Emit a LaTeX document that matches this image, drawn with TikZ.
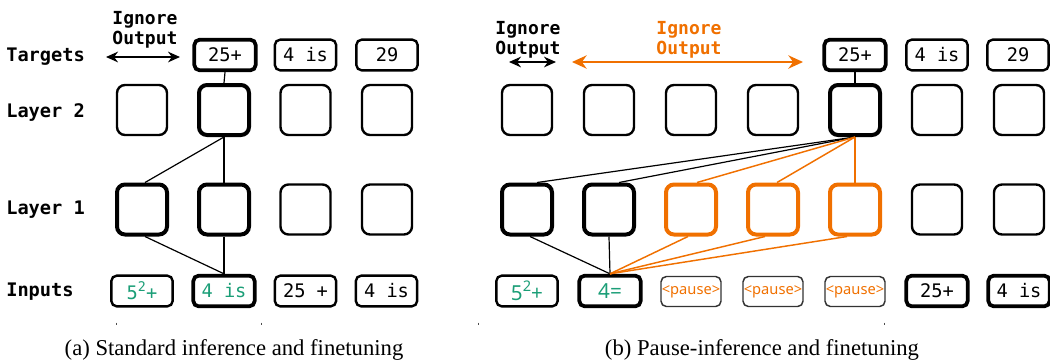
\documentclass[tikz,border=0pt]{standalone}
\usepackage{fontspec}
\setmainfont{Liberation Serif}
\newfontfamily\monof{DejaVu Sans Mono}
\newfontfamily\sansf{Noto Sans}
\usetikzlibrary{arrows.meta,calc}
\definecolor{pgreen}{RGB}{27,158,119}
\definecolor{porange}{RGB}{240,112,0}
\newcommand{\supmono}{\raisebox{0.42em}{\fontsize{10}{10}\selectfont 2}}
\begin{document}
\begin{tikzpicture}[x=0.75pt,y=-0.75pt,
  lay/.style={draw=black, line width=1.8pt, rounded corners=6pt, minimum width=37.5pt, minimum height=37.5pt, inner sep=0pt},
  thk/.style={line width=3pt},
  orng/.style={draw=porange, line width=3pt},
  tok/.style={draw=black, line width=1.8pt, rounded corners=4pt, minimum width=46pt, minimum height=23pt, inner sep=0pt, font=\monof\fontsize{14}{16}\selectfont},
  tokthk/.style={line width=2.8pt},
  pausebox/.style={draw=black!80, line width=1.1pt, rounded corners=4pt, minimum width=45pt, minimum height=22.5pt, inner sep=0pt, text=porange, font=\sansf\fontsize{11}{13}\selectfont},
  rowlab/.style={anchor=west, inner sep=0pt, font=\monof\bfseries\fontsize{14}{16}\selectfont},
  ign/.style={align=center, inner sep=0pt, font=\monof\bfseries\fontsize{13.5}{15}\selectfont},
  conn/.style={line width=0.9pt, draw=black},
  oconn/.style={line width=1.1pt, draw=porange},
  biarr/.style={{Stealth[length=9pt,width=8pt]}-{Stealth[length=9pt,width=8pt]}, line width=1.2pt},
  captxt/.style={anchor=base, inner sep=0pt, font=\fontsize{17}{20}\selectfont},
]
\useasboundingbox (0,0) rectangle (1050,362);

% ---------------- panel (a) ----------------
\node[rowlab] (labT) at (6,57) {Targets};
\node[rowlab] (labL2) at (6,112) {Layer 2};
\node[rowlab] (labL1) at (6,210) {Layer 1};
\node[rowlab] (labI) at (6,292) {Inputs};

\node[ign] (aign) at (145,30) {Ignore\\Output};
\coordinate (aarrL) at (106,57);
\coordinate (aarrR) at (180,57);
\draw[biarr] (aarrL) -- (aarrR);

\node[tok,tokthk] (at2) at (225,55) {25+};
\node[tok] (at3) at (305.5,55) {4 is};
\node[tok] (at4) at (387,55) {29};

\node[lay] (a2c1) at (142,110) {};
\node[lay,thk] (a2c2) at (224,110) {};
\node[lay] (a2c3) at (305.5,110) {};
\node[lay] (a2c4) at (387,110) {};

\node[lay,thk] (a1c1) at (142,209.5) {};
\node[lay,thk] (a1c2) at (224,209.5) {};
\node[lay] (a1c3) at (305.5,209.5) {};
\node[lay] (a1c4) at (387,209.5) {};

\node[tok,text=pgreen] (ai1) at (142,291) {5\supmono+};
\node[tok,tokthk,text=pgreen] (ai2) at (224,291) {4 is};
\node[tok] (ai3) at (305.5,291) {25 +};
\node[tok] (ai4) at (386.5,291) {4 is};

\draw[conn] (at2.south) -- (a2c2.north);
\draw[conn] (a2c2.south) -- ($(a1c1.north)+(3,0)$);
\draw[conn] (a2c2.south) -- (a1c2.north);
\draw[conn] ($(a1c1.south)+(3,0)$) -- (ai2.north);
\draw[conn] (a1c2.south) -- (ai2.north);

% ---------------- panel (b) ----------------
\node[ign] (bign) at (528,40) {Ignore\\Output};
\coordinate (barrL) at (509,62);
\coordinate (barrR) at (556,62);
\draw[biarr] (barrL) -- (barrR);

\node[ign,text=porange] (oign) at (689,40) {Ignore\\Output};
\coordinate (oarrL) at (572,62);
\coordinate (oarrR) at (803,62);
\draw[{Stealth[length=11pt,width=10pt]}-{Stealth[length=11pt,width=10pt]}, line width=1.3pt, draw=porange, fill=porange] (oarrL) -- (oarrR);

\node[tok,tokthk] (bt5) at (855,55) {25+};
\node[tok] (bt6) at (937,55) {4 is};
\node[tok] (bt7) at (1018,55) {29};

\node[lay] (b2c1) at (527,110) {};
\node[lay] (b2c2) at (609,110) {};
\node[lay] (b2c3) at (691,110) {};
\node[lay] (b2c4) at (773,110) {};
\node[lay,thk] (b2c5) at (855,110) {};
\node[lay] (b2c6) at (937,110) {};
\node[lay] (b2c7) at (1019,110) {};

\node[lay,thk] (b1c1) at (527,209.5) {};
\node[lay,thk] (b1c2) at (609,209.5) {};
\node[lay,orng] (b1c3) at (691,209.5) {};
\node[lay,orng] (b1c4) at (773,209.5) {};
\node[lay,orng] (b1c5) at (855,209.5) {};
\node[lay] (b1c6) at (937,209.5) {};
\node[lay] (b1c7) at (1019,209.5) {};

\node[tok,text=pgreen,font=\sansf\fontsize{15.5}{17}\selectfont] (bi1) at (527,291) {5\raisebox{0.42em}{\fontsize{11}{11}\selectfont 2}+};
\node[tok,tokthk,text=pgreen,font=\sansf\fontsize{15.5}{17}\selectfont] (bi2) at (610,291) {4=};
\node[pausebox] (bi3) at (691,291.5) {<pause>};
\node[pausebox] (bi4) at (773,291.5) {<pause>};
\node[pausebox] (bi5) at (855,291.5) {<pause>};
\node[tok,tokthk] (bi6) at (937,291) {25+};
\node[tok,tokthk] (bi7) at (1019,291) {4 is};

\draw[conn] (bt5.south) -- (b2c5.north);
\draw[conn] (b2c5.south) -- ($(b1c1.north)+(10,0)$);
\draw[conn] (b2c5.south) -- ($(b1c2.north)+(10,0)$);
\draw[oconn] (b2c5.south) -- ($(b1c3.north)+(6,0)$);
\draw[oconn] (b2c5.south) -- ($(b1c4.north)+(4,0)$);
\draw[oconn] (b2c5.south) -- (b1c5.north);

\draw[conn] ($(b1c1.south)+(3,0)$) -- (bi2.north);
\draw[conn] (b1c2.south) -- (bi2.north);
\draw[oconn] ($(b1c3.south)+(-3,0)$) -- (bi2.north);
\draw[oconn] ($(b1c4.south)+(-8,0)$) -- (bi2.north);
\draw[oconn] ($(b1c5.south)+(-8,0)$) -- (bi2.north);

% small marks below
\foreach \tx in {116,261,478,884} \draw[black!70, line width=0.6pt] (\tx,322.5) -- (\tx,325);

% captions
\node[captxt] (capa) at (234,355.5) {(a) Standard inference and finetuning};
\node[captxt] (capb) at (762,355.5) {(b) Pause-inference and finetuning};
\end{tikzpicture}
\end{document}
